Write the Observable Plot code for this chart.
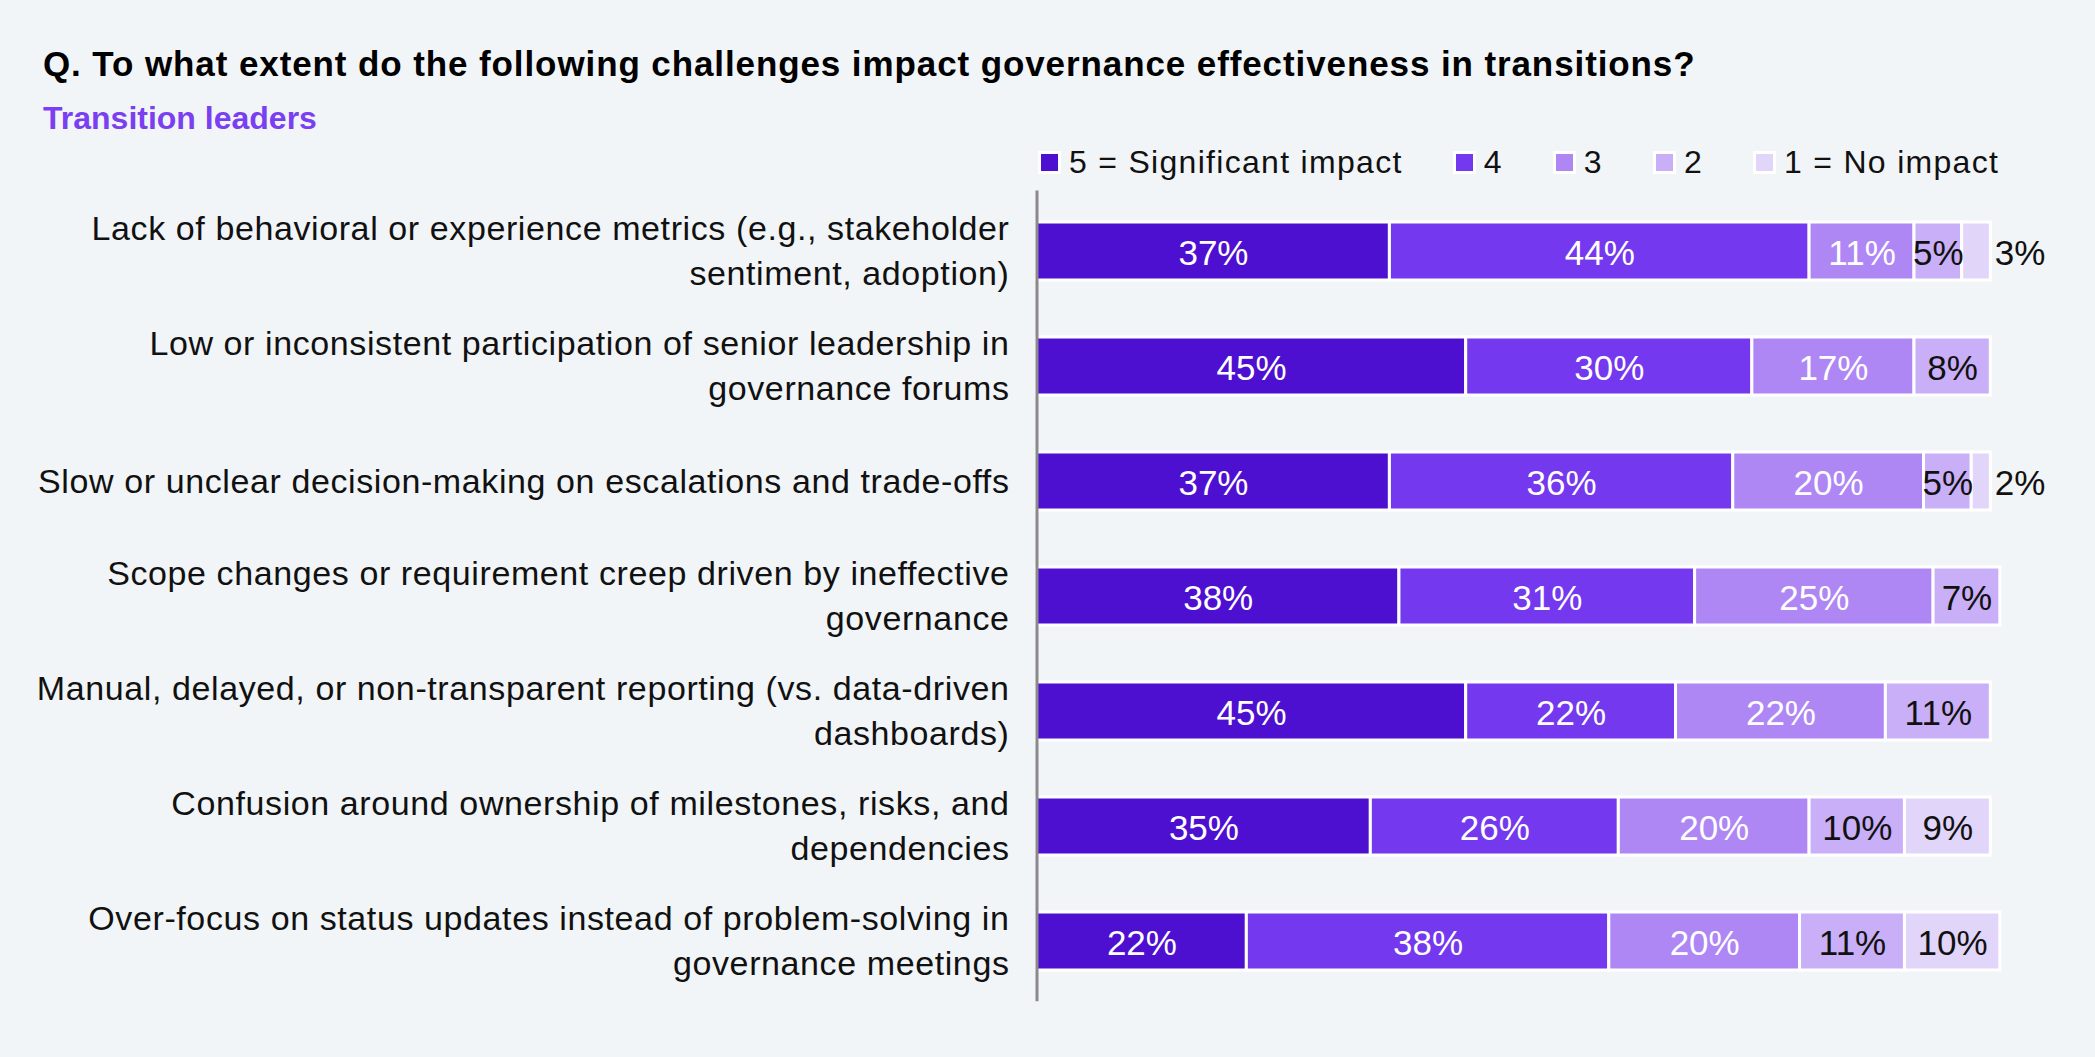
<!DOCTYPE html>
<html>
<head>
<meta charset="utf-8">
<script src="https://cdn.jsdelivr.net/npm/d3@7"></script>
<script src="https://cdn.jsdelivr.net/npm/@observablehq/plot@0.6"></script>
<style>
  html, body { margin: 0; padding: 0; background: #F2F5F8; }
  body { width: 2095px; height: 1057px; position: relative; overflow: hidden;
         font-family: "Liberation Sans", Arial, Helvetica, sans-serif; }
  #title { position: absolute; left: 43px; top: 46px; font-size: 35px; line-height: 1; font-weight: bold; color: #000; white-space: nowrap; letter-spacing: 0.9px; }
  #subtitle { position: absolute; left: 43px; top: 102px; font-size: 32px; line-height: 1; font-weight: bold; color: #7A3FF0; white-space: nowrap; }
  #legend { position: absolute; left: 1038px; top: 146px; display: flex; align-items: center; font-size: 32px; line-height: 1; color: #111; white-space: nowrap; letter-spacing: 1.3px; }
  #legend .item { display: flex; align-items: center; margin-right: 50px; }
  #legend .item:last-child { margin-right: 0; }
  #legend .sw { width: 17px; height: 17px; border: 3px solid #fff; margin-right: 8px; }
  #chart { position: absolute; left: 0; top: 0; }
  .ylabels text { letter-spacing: 0.6px; }
</style>
</head>
<body>
<div id="chart"></div>
<div id="title"></div>
<div id="subtitle"></div>
<div id="legend"></div>
<script>
const titleText = "Q. To what extent do the following challenges impact governance effectiveness in transitions?";
const subtitleText = "Transition leaders";

const categories = [
  "Lack of behavioral or experience metrics (e.g., stakeholder\nsentiment, adoption)",
  "Low or inconsistent participation of senior leadership in\ngovernance forums",
  "Slow or unclear decision-making on escalations and trade-offs",
  "Scope changes or requirement creep driven by ineffective\ngovernance",
  "Manual, delayed, or non-transparent reporting (vs. data-driven\ndashboards)",
  "Confusion around ownership of milestones, risks, and\ndependencies",
  "Over-focus on status updates instead of problem-solving in\ngovernance meetings"
];

const levels = ["5 = Significant impact", "4", "3", "2", "1 = No impact"];
const colors = ["#4E10D0", "#7439EE", "#AE87F4", "#C9AFF7", "#E2D5FA"];

const level5 = [37, 45, 37, 38, 45, 35, 22];
const level4 = [44, 30, 36, 31, 22, 26, 38];
const level3 = [11, 17, 20, 25, 22, 20, 20];
const level2 = [5, 8, 5, 7, 11, 10, 11];
const level1 = [3, null, 2, null, null, 9, 10];

const series = [level5, level4, level3, level2, level1];
const lightLevels = ["2", "1 = No impact"];

const data = categories.flatMap((c, i) =>
  levels.map((l, j) => ({category: c, level: l, value: series[j][i]}))
        .filter(d => d.value != null)
);

document.getElementById("title").textContent = titleText;
document.getElementById("subtitle").textContent = subtitleText;

const legend = document.getElementById("legend");
levels.forEach((l, j) => {
  const item = document.createElement("div");
  item.className = "item";
  const sw = document.createElement("div");
  sw.className = "sw";
  sw.style.background = colors[j];
  const tx = document.createElement("span");
  tx.textContent = l;
  item.appendChild(sw);
  item.appendChild(tx);
  legend.appendChild(item);
});

const font = "Liberation Sans, Arial, Helvetica, sans-serif";
const fmt = d => d.value + "%";

const chart = Plot.plot({
  width: 2095,
  height: 1057,
  marginTop: 190.6,
  marginBottom: 55.8,
  marginLeft: 1036.5,
  marginRight: 104.7,
  style: {background: "transparent", fontFamily: font, color: "#111", overflow: "visible"},
  x: {domain: [0, 100], axis: null},
  y: {domain: categories, paddingInner: 0.5, paddingOuter: 0.25, axis: null},
  color: {domain: levels, range: colors},
  marks: [
    Plot.barX(data, Plot.stackX({x: "value", y: "category", fill: "level", stroke: "white", strokeWidth: 3})),
    Plot.text(data, Plot.stackX({
      x: "value", y: "category",
      text: d => (d.value >= 4 && !lightLevels.includes(d.level)) ? fmt(d) : "",
      fill: "white", fontSize: 35, dy: 2
    })),
    Plot.text(data, Plot.stackX({
      x: "value", y: "category",
      text: d => (d.value >= 4 && lightLevels.includes(d.level)) ? fmt(d) : "",
      fill: "#111", fontSize: 35, dy: 2
    })),
    Plot.text(data, Plot.stackX2({
      x: "value", y: "category",
      text: d => d.value < 4 ? fmt(d) : "",
      fill: "#111", fontSize: 35, textAnchor: "start", dx: 4, dy: 2
    })),
    Plot.ruleX([0], {stroke: "#8a8a8a", strokeWidth: 3}),
    Plot.axisY({
      anchor: "left", tickSize: 0, tickPadding: 27.5, label: null,
      fontSize: 34, lineHeight: 1.31, fill: "#111", dy: -3
    })
  ]
});
// tag the category-label group so its letter spacing can be styled
d3.select(chart).selectAll("g[aria-label='y-axis tick label']").classed("ylabels", true);
document.getElementById("chart").appendChild(chart);
</script>
</body>
</html>
